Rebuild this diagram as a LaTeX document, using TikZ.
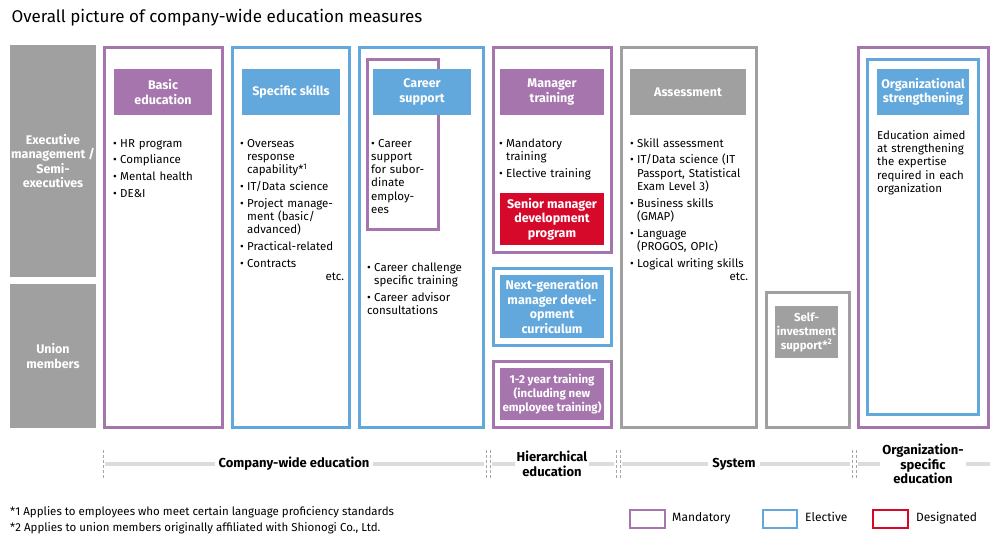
\documentclass[tikz,border=0pt]{standalone}
\usepackage{fontspec}
\setmainfont{Fira Sans}
\definecolor{pur}{HTML}{A675AE}
\definecolor{blu}{HTML}{62A8DC}
\definecolor{gry}{HTML}{A0A0A0}
\definecolor{red}{HTML}{D7092A}
\definecolor{bar}{HTML}{DCDCDC}
\newcommand\bitem{\par\vspace{3.5pt}\hangindent=7pt\hangafter=1\makebox[7pt][l]{\textbullet}}
\tikzset{
 frame/.style={draw=#1,line width=3pt},
 hdr/.style={fill=#1,text=white,font=\fontsize{12.5}{14.5}\selectfont\bfseries,align=center,inner sep=0pt},
 body/.style={anchor=north west,align=left,font=\fontsize{11.5}{13.3}\selectfont,inner sep=0pt},
 lab/.style={fill=gry,text=white,font=\fontsize{12.5}{14.5}\selectfont\bfseries,align=center,inner sep=0pt},
 cat/.style={fill=white,font=\fontsize{13}{14.5}\selectfont\bfseries,align=center,inner sep=4pt},
 sep/.style={draw=gray!70,densely dashed,line width=0.4pt},
 note/.style={anchor=mid west,font=\fontsize{11.5}{13}\selectfont,inner sep=0pt},
}
\begin{document}
\begin{tikzpicture}[x=1pt,y=-1pt]
\useasboundingbox (0,0) rectangle (1000,547);
\node[anchor=west,font=\fontsize{17}{19}\selectfont] (title) at (8,18) {Overall picture of company-wide education measures};
% row labels
\node[lab,minimum width=86pt,minimum height=232pt] (exec) at (53,161) {Executive\\management /\\Semi-\\executives};
\node[lab,minimum width=86pt,minimum height=144pt] (union) at (53,356) {Union\\members};
% frames
\draw[frame=pur] (104,47) rectangle (222,427);
\draw[frame=blu] (232,47) rectangle (349,427);
\draw[frame=blu] (359,47) rectangle (483,427);
\draw[frame=pur] (367,59) rectangle (438,229);
\draw[frame=pur] (493,47) rectangle (611,252);
\draw[frame=blu] (493,268) rectangle (611,345);
\draw[frame=pur] (493,361) rectangle (611,427);
\draw[frame=gry] (621,47) rectangle (756,427);
\draw[frame=gry] (766,292) rectangle (849,427);
\draw[frame=pur] (858,47) rectangle (988,427);
\draw[frame=blu] (867,59) rectangle (978,414);
% headers
\node[hdr=pur,minimum width=98pt,minimum height=46pt] (h1) at (163,92) {Basic\\education};
\node[hdr=blu,minimum width=98pt,minimum height=46pt] (h2) at (291,92) {Specific skills};
\node[hdr=blu,minimum width=98pt,minimum height=46pt] (h3) at (422,92) {Career\\support};
\node[hdr=pur,minimum width=104pt,minimum height=46pt] (h4) at (552,92) {Manager\\training};
\node[hdr=red,minimum width=104pt,minimum height=52pt] (h5) at (552,219) {Senior manager\\development\\program};
\node[hdr=blu,minimum width=104pt,minimum height=63pt] (h6) at (552,306.5) {Next-generation\\manager devel-\\opment\\curriculum};
\node[hdr=pur,minimum width=104pt,minimum height=52pt,font=\fontsize{11.5}{14}\selectfont\bfseries] (h7) at (552,394) {1-2 year training\\(including new\\employee training)};
\node[hdr=gry,minimum width=116pt,minimum height=46pt] (h8) at (688,92) {Assessment};
\node[hdr=gry,minimum width=63pt,minimum height=52pt,font=\fontsize{11.5}{14}\selectfont\bfseries] (h9) at (806.5,332) {Self-\\investment\\support*\textsuperscript{2}};
\node[hdr=blu,minimum width=92pt,minimum height=46pt] (h10) at (923,92) {Organizational\\strengthening};
% bodies
\node[body,text width=110pt] (b1) at (113,130) {\bitem HR program\bitem Compliance\bitem Mental health\bitem DE\&I};
\node[body,text width=104pt] (b2) at (240,130) {\bitem Overseas\newline response\newline capability*\textsuperscript{1}\bitem IT/Data science\bitem Project manage-\newline ment (basic/\newline advanced)\bitem Practical-related\bitem Contracts\par\hfill etc.};
\node[body,text width=66pt] (b3) at (371,130) {\bitem Career\newline support\newline for subor-\newline dinate\newline employ-\newline ees};
\node[body,text width=112pt] (b4) at (367,254) {\bitem Career challenge\newline specific training\bitem Career advisor\newline consultations};
\node[body,text width=110pt] (b5) at (499,130) {\bitem Mandatory\newline training\bitem Elective training};
\node[body,text width=118pt] (b6) at (630,130) {\bitem Skill assessment\bitem IT/Data science (IT\newline Passport, Statistical\newline Exam Level 3)\bitem Business skills\newline (GMAP)\bitem Language\newline (PROGOS, OPIc)\bitem Logical writing skills\par\hfill etc.};
\node[body,text width=100pt] (b7) at (877,130) {Education aimed\\at strengthening\\the expertise\\required in each\\organization};
% bottom category bars
\draw[sep] (103,450) -- (103,478);
\draw[sep] (486,450) -- (486,478);\draw[sep] (490,450) -- (490,478);
\draw[sep] (616,450) -- (616,478);\draw[sep] (620,450) -- (620,478);
\draw[sep] (852,450) -- (852,478);\draw[sep] (856,450) -- (856,478);
\draw[bar,line width=4.5pt] (105,464) -- (484,464);
\draw[bar,line width=4.5pt] (492,464) -- (614,464);
\draw[bar,line width=4.5pt] (622,464) -- (850,464);
\draw[bar,line width=4.5pt] (858,464) -- (990,464);
\node[cat] (c1) at (294,464) {Company-wide education};
\node[cat,inner sep=2pt] (c2) at (552,464) {Hierarchical\\education};
\node[cat] (c3) at (734,464) {System};
\node[cat,inner sep=2pt] (c4) at (923,464) {Organization-\\specific\\education};
% footnotes
\node[note] (f1) at (10,513) {*1 Applies to employees who meet certain language proficiency standards};
\node[note] (f2) at (10,529) {*2 Applies to union members originally affiliated with Shionogi Co., Ltd.};
% legend
\draw[frame=pur,line width=2.5pt] (630,510) rectangle (665,528);
\node[note,font=\fontsize{12}{13}\selectfont] (l1) at (672,519) {Mandatory};
\draw[frame=blu,line width=2.5pt] (763,510) rectangle (797,528);
\node[note,font=\fontsize{12}{13}\selectfont] (l2) at (805,519) {Elective};
\draw[frame=red,line width=2.5pt] (873,510) rectangle (908,528);
\node[note,font=\fontsize{12}{13}\selectfont] (l3) at (916,519) {Designated};
\end{tikzpicture}
\end{document}
